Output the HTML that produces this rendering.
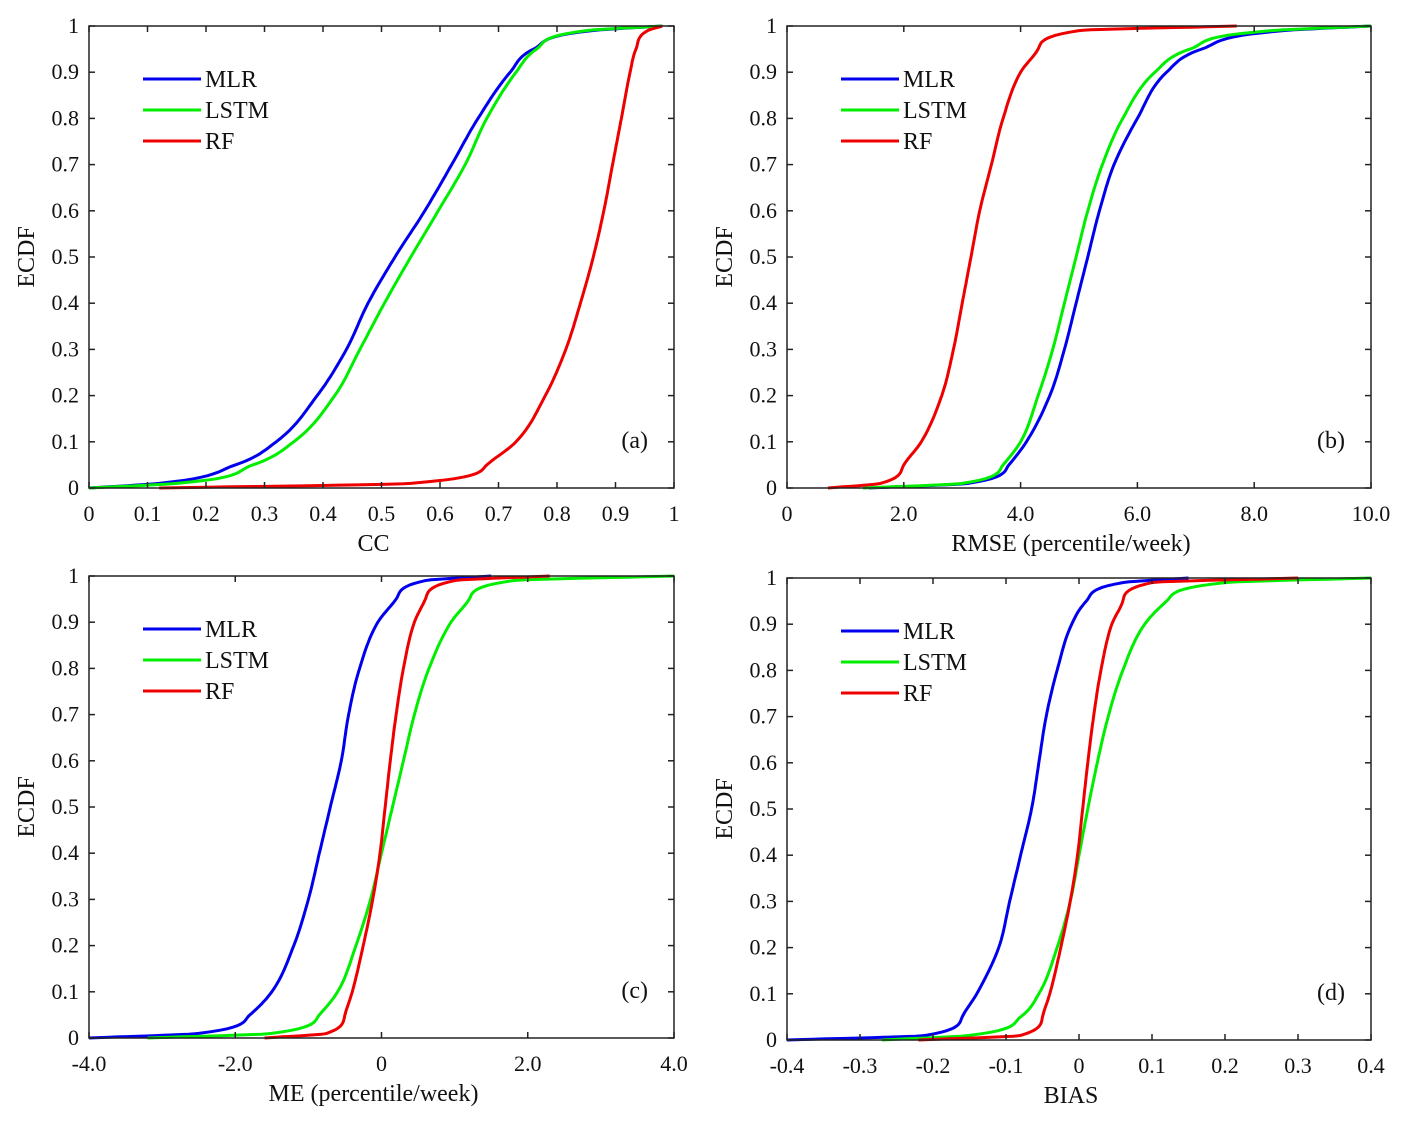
<!DOCTYPE html>
<html><head><meta charset="utf-8"><style>
body{margin:0;background:#fff}
svg text{font-family:"Liberation Serif",serif;fill:#111}
</style></head><body>
<svg id="chart" width="1416" height="1128" xmlns="http://www.w3.org/2000/svg"></svg>
<script>
const levels=[0,0.01,0.05,0.1,0.2,0.3,0.4,0.5,0.6,0.7,0.8,0.9,0.95,0.99,1];
const seriesNames=["MLR","LSTM","RF"];
const ccMLR=[0,0.12,0.25,0.32,0.39,0.44,0.477,0.523,0.574,0.62,0.665,0.72,0.76,0.86,0.98];
const ccLSTM=[0,0.15,0.28,0.35,0.42,0.463,0.505,0.55,0.597,0.643,0.68,0.73,0.765,0.85,0.98];
const ccRF=[0.12,0.55,0.68,0.73,0.78,0.815,0.84,0.862,0.88,0.895,0.91,0.925,0.935,0.955,0.98];
const rmseMLR=[1.4,3.1,3.8,4.1,4.5,4.75,4.95,5.15,5.35,5.6,6.0,6.5,7.1,8.5,10];
const rmseLSTM=[1.3,3.0,3.7,4.0,4.3,4.55,4.75,4.95,5.15,5.4,5.75,6.3,6.9,8.3,10];
const rmseRF=[0.7,1.6,2.0,2.3,2.65,2.85,3.0,3.15,3.3,3.5,3.7,4.0,4.3,5.0,7.7];
const meMLR=[-4,-2.5,-1.8,-1.5,-1.2,-1.0,-0.85,-0.7,-0.55,-0.45,-0.3,-0.05,0.2,0.6,1.5];
const meLSTM=[-3.2,-1.5,-0.85,-0.6,-0.35,-0.15,0,0.15,0.3,0.45,0.65,0.95,1.2,1.8,4];
const meRF=[-1.6,-0.75,-0.5,-0.4,-0.25,-0.12,-0.02,0.05,0.12,0.2,0.3,0.45,0.6,1.0,2.3];
const biasMLR=[-0.4,-0.21,-0.16,-0.14,-0.11,-0.095,-0.08,-0.065,-0.055,-0.045,-0.03,-0.01,0.01,0.06,0.15];
const biasLSTM=[-0.27,-0.15,-0.08,-0.055,-0.03,-0.012,0,0.012,0.025,0.04,0.06,0.09,0.12,0.2,0.4];
const biasRF=[-0.22,-0.08,-0.05,-0.04,-0.025,-0.012,-0.002,0.005,0.012,0.02,0.03,0.045,0.06,0.1,0.3];
const yTicks=[0,0.1,0.2,0.3,0.4,0.5,0.6,0.7,0.8,0.9,1];
const yTickLabels=["0","0.1","0.2","0.3","0.4","0.5","0.6","0.7","0.8","0.9","1"];
const ccTicks=[0,0.1,0.2,0.3,0.4,0.5,0.6,0.7,0.8,0.9,1];
const ccTickLabels=["0","0.1","0.2","0.3","0.4","0.5","0.6","0.7","0.8","0.9","1"];
const rmseTicks=[0,2,4,6,8,10];
const rmseTickLabels=["0","2.0","4.0","6.0","8.0","10.0"];
const meTicks=[-4,-2,0,2,4];
const meTickLabels=["-4.0","-2.0","0","2.0","4.0"];
const biasTicks=[-0.4,-0.3,-0.2,-0.1,0,0.1,0.2,0.3,0.4];
const biasTickLabels=["-0.4","-0.3","-0.2","-0.1","0","0.1","0.2","0.3","0.4"];

const colors=["#0000ee","#00ee00","#ee0000"];
const NS="http://www.w3.org/2000/svg";
const svg=document.getElementById('chart');
function mk(tag,attrs,parent){const e=document.createElementNS(NS,tag);for(const k in attrs)e.setAttribute(k,attrs[k]);(parent||svg).appendChild(e);return e;}
// monotone (Fritsch-Carlson) interpolation of value vs level
function monoSample(xs,ys,n){
 const m=xs.length,d=[],t=new Array(m);
 for(let i=0;i<m-1;i++)d.push((ys[i+1]-ys[i])/(xs[i+1]-xs[i]));
 t[0]=d[0];t[m-1]=d[m-2];
 for(let i=1;i<m-1;i++)t[i]=(d[i-1]*d[i]<=0)?0:(d[i-1]+d[i])/2;
 for(let i=0;i<m-1;i++){if(d[i]===0){t[i]=t[i+1]=0;continue;}
  const a=t[i]/d[i],b=t[i+1]/d[i],s=a*a+b*b;if(s>9){const k=3/Math.sqrt(s);t[i]=k*a*d[i];t[i+1]=k*b*d[i];}}
 const out=[];
 for(let i=0;i<m-1;i++){const h=xs[i+1]-xs[i];
  for(let j=0;j<n;j++){const u=j/n,h00=2*u*u*u-3*u*u+1,h10=u*u*u-2*u*u+u,h01=-2*u*u*u+3*u*u,h11=u*u*u-u*u;
   out.push([xs[i]+u*h,h00*ys[i]+h10*h*t[i]+h01*ys[i+1]+h11*h*t[i+1]]);}}
 out.push([xs[m-1],ys[m-1]]);return out;}
const panels=[
 {id:"a",x0:89,x1:674,y0:26,y1:488,dom:[0,1],ticks:ccTicks,labels:ccTickLabels,title:"CC",series:[ccMLR,ccLSTM,ccRF]},
 {id:"b",x0:787,x1:1371,y0:26,y1:488,dom:[0,10],ticks:rmseTicks,labels:rmseTickLabels,title:"RMSE (percentile/week)",series:[rmseMLR,rmseLSTM,rmseRF]},
 {id:"c",x0:89,x1:674,y0:576,y1:1038,dom:[-4,4],ticks:meTicks,labels:meTickLabels,title:"ME (percentile/week)",series:[meMLR,meLSTM,meRF]},
 {id:"d",x0:787,x1:1371,y0:578,y1:1040,dom:[-0.4,0.4],ticks:biasTicks,labels:biasTickLabels,title:"BIAS",series:[biasMLR,biasLSTM,biasRF]}
];
panels.forEach(p=>{
 const g=mk('g',{});
 
 
 const sx=v=>p.x0+(v-p.dom[0])/(p.dom[1]-p.dom[0])*(p.x1-p.x0);
 const sy=v=>p.y1-v*(p.y1-p.y0);
 p.series.forEach((s,i)=>{
  const pts=monoSample(levels,s,12).map(q=>sx(q[1]).toFixed(1)+','+sy(q[0]).toFixed(1)).join(' ');
  const pl=mk('polyline',{points:pts,fill:'none',stroke:colors[i],'stroke-width':3,'stroke-linejoin':'round'},g);
  
  
 });
 const box=mk('rect',{x:p.x0,y:p.y0,width:p.x1-p.x0,height:p.y1-p.y0,fill:'none',stroke:'#222','stroke-width':1.5},g);
 
 
 yTicks.forEach((v,i)=>{
  const y=sy(v);
  mk('line',{x1:p.x0,x2:p.x0+6,y1:y,y2:y,stroke:'#222','stroke-width':1.5},g);
  mk('line',{x1:p.x1,x2:p.x1-6,y1:y,y2:y,stroke:'#222','stroke-width':1.5},g);
  const t=mk('text',{x:p.x0-10,y:y+7,'text-anchor':'end','font-size':22},g);
  t.textContent=yTickLabels[i];
  
  
 });
 p.ticks.forEach((v,i)=>{
  const x=sx(v);
  mk('line',{x1:x,x2:x,y1:p.y1,y2:p.y1-6,stroke:'#222','stroke-width':1.5},g);
  mk('line',{x1:x,x2:x,y1:p.y0,y2:p.y0+6,stroke:'#222','stroke-width':1.5},g);
  const t=mk('text',{x:x,y:p.y1+33,'text-anchor':'middle','font-size':22},g);
  t.textContent=p.labels[i];
  
  
 });
 const xt=mk('text',{x:(p.x0+p.x1)/2-8,y:p.y1+63,'text-anchor':'middle','font-size':24},g);
 xt.textContent=p.title;
 
 
 const yt=mk('text',{x:0,y:0,'text-anchor':'middle','font-size':24,transform:`translate(${p.x0-55},${(p.y0+p.y1)/2}) rotate(-90)`},g);
 yt.textContent="ECDF";
 
 
 const pl=mk('text',{x:p.x1-26,y:p.y1-40,'text-anchor':'end','font-size':24},g);
 pl.textContent='('+p.id+')';
 
 
 seriesNames.forEach((n,i)=>{
  const ly=p.y0+53+i*31;
  const le=mk('g',{},g);
  
  
  mk('line',{x1:p.x0+54,x2:p.x0+112,y1:ly,y2:ly,stroke:colors[i],'stroke-width':3},le);
  const t=mk('text',{x:p.x0+116,y:ly+8,'font-size':24},le);
  t.textContent=n;
 });
});
</script>
</body></html>
